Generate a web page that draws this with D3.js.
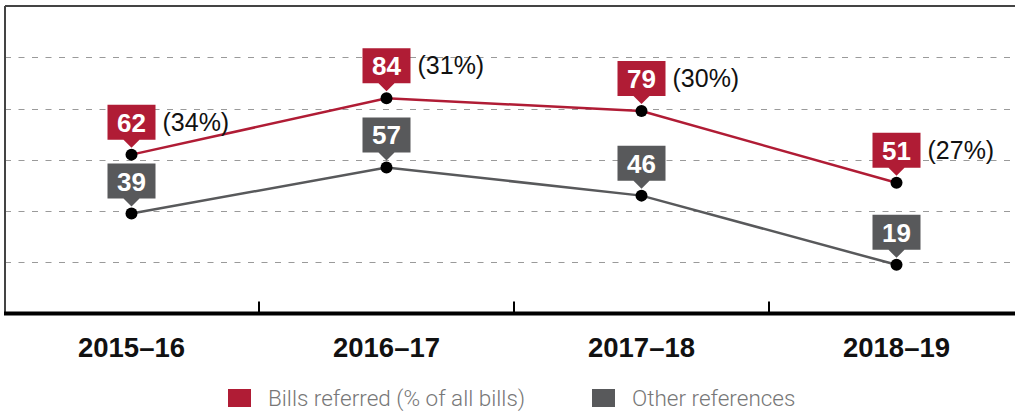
<!DOCTYPE html>
<html>
<head>
<meta charset="utf-8">
<script src="https://cdn.jsdelivr.net/npm/d3@7"></script>
<style>
body { margin: 0; background: #fff; }
svg { display: block; }
</style>
</head>
<body>
<svg id="chart"></svg>
<script>
// data
var years = ["2015–16", "2016–17", "2017–18", "2018–19"];
var billsReferred = [62, 84, 79, 51];
var billsShare = ["(34%)", "(31%)", "(30%)", "(27%)"];
var otherRefs = [39, 57, 46, 19];
var gridValues = [20, 40, 60, 80, 100];
var seriesNames = ["Bills referred (% of all bills)", "Other references"];

var red = "#b01c35", grey = "#58595b";

var W = 1015, H = 411;
var margin = {top: 6, left: 5, bottom: 98};
var plotBottom = H - margin.bottom + 0.5;

var svg = d3.select("#chart").attr("width", W).attr("height", H);

var x = d3.scaleBand()
    .domain(years)
    .range([4, 1024]);

var y = d3.scaleLinear()
    .domain([0, 120])
    .range([plotBottom, margin.top]);

// dashed grid
svg.append("g")
    .selectAll("line")
    .data(gridValues)
    .enter()
    .append("line")
    .attr("x1", margin.left)
    .attr("x2", W)
    .attr("y1", d => Math.round(y(d)) + 0.5)
    .attr("y2", d => Math.round(y(d)) + 0.5)
    .attr("stroke", "#9a9a9a")
    .attr("stroke-width", 1.2)
    .attr("stroke-dasharray", "6,7.5");

// frame: top + left
svg.append("line")
    .attr("x1", margin.left).attr("x2", W)
    .attr("y1", y(120)).attr("y2", y(120))
    .attr("stroke", "#444").attr("stroke-width", 2);
svg.append("line")
    .attr("x1", margin.left).attr("x2", margin.left)
    .attr("y1", y(120)).attr("y2", plotBottom)
    .attr("stroke", "#444").attr("stroke-width", 2);

// x axis with ticks between the bands
var xAxis = svg.append("g")
    .attr("transform", "translate(0," + plotBottom + ")");
xAxis.append("line")
    .attr("x1", margin.left - 1).attr("x2", W)
    .attr("stroke", "#000").attr("stroke-width", 4);
xAxis.selectAll(".tick")
    .data(years.slice(1))
    .enter()
    .append("line")
    .attr("x1", d => x(d)).attr("x2", d => x(d))
    .attr("y1", 0).attr("y2", -12)
    .attr("stroke", "#000").attr("stroke-width", 2);
xAxis.selectAll(".lbl")
    .data(years)
    .enter()
    .append("text")
    .attr("x", d => x(d) + x.bandwidth() / 2)
    .attr("y", 43)
    .attr("text-anchor", "middle")
    .attr("font-family", "Liberation Sans, Arial, sans-serif")
    .attr("font-weight", "bold")
    .attr("font-size", 27.5)
    .attr("fill", "#111")
    .text(d => d);

var cx = d => x(d) + x.bandwidth() / 2;

var line = d3.line()
    .x((d, i) => cx(years[i]))
    .y(d => y(d));

function drawSeries(values, colour, share) {
    svg.append("path")
        .datum(values)
        .attr("d", line)
        .attr("fill", "none")
        .attr("stroke", colour)
        .attr("stroke-width", 2.5);

    svg.append("g")
        .selectAll("circle")
        .data(values)
        .enter()
        .append("circle")
        .attr("cx", (d, i) => cx(years[i]))
        .attr("cy", d => y(d))
        .attr("r", 6)
        .attr("fill", "#000");

    var tags = svg.append("g")
        .selectAll("g")
        .data(values)
        .enter()
        .append("g")
        .attr("transform", (d, i) => "translate(" + cx(years[i]) + "," + y(d) + ")");

    var bw = 48, bh = 35;
    tags.append("path")
        .attr("d", "M" + (-bw / 2) + "," + (-15 - bh) +
            "h" + bw + "v" + bh + "h" + (-(bw / 2 - 8)) +
            "l-8,8l-8,-8h" + (-(bw / 2 - 8)) + "z")
        .attr("fill", colour);

    tags.append("text")
        .attr("y", -23)
        .attr("text-anchor", "middle")
        .attr("font-family", "Liberation Sans, Arial, sans-serif")
        .attr("font-weight", "bold")
        .attr("font-size", 26)
        .attr("fill", "#fff")
        .text(d => d);

    if (share) {
        tags.append("text")
            .attr("x", bw / 2 + 7)
            .attr("y", -24)
            .attr("font-family", "Liberation Sans, Arial, sans-serif")
            .attr("font-size", 25)
            .attr("fill", "#111")
            .text((d, i) => share[i]);
    }
}

drawSeries(billsReferred, red, billsShare);
drawSeries(otherRefs, grey, null);

// legend
var legend = svg.append("g");
var legendX = [228, 592];
var colours = [red, grey];
seriesNames.forEach(function(name, i) {
    legend.append("rect")
        .attr("x", legendX[i]).attr("y", 389)
        .attr("width", 23).attr("height", 18)
        .attr("fill", colours[i]);
    legend.append("text")
        .attr("x", legendX[i] + 40)
        .attr("y", 406)
        .attr("font-family", "Roboto, sans-serif")
        .attr("font-weight", 300)
        .attr("font-size", 22.5)
        .attr("fill", "#777")
        .text(name);
});
</script>
</body>
</html>
